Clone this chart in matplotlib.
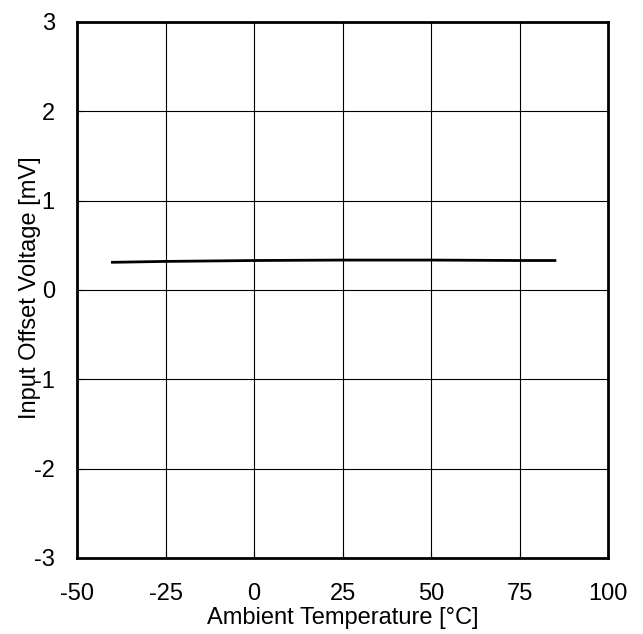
import matplotlib
matplotlib.use("Agg")
import matplotlib.pyplot as plt

plt.rcParams["font.family"] = ["Liberation Sans", "DejaVu Sans"]
plt.rcParams["axes.unicode_minus"] = False

# Input offset voltage vs ambient temperature
temps = [-40, -25, 0, 25, 50, 75, 85]
offset_mv = [0.31, 0.32, 0.33, 0.335, 0.335, 0.33, 0.33]

x_ticks = [-50, -25, 0, 25, 50, 75, 100]
y_ticks = [-3, -2, -1, 0, 1, 2, 3]

fig = plt.figure(figsize=(6.43, 6.34), dpi=100)
ax = fig.add_axes([0.1198, 0.1199, 0.8258, 0.8454])

ax.plot(temps, offset_mv, color="black", linewidth=2)

ax.set_xlim(-50, 100)
ax.set_ylim(-3, 3)
ax.set_xticks(x_ticks)
ax.set_yticks(y_ticks)
ax.grid(True, color="black", linewidth=0.8)
ax.tick_params(direction="in", length=4, labelsize=17)
ax.tick_params(axis="x", pad=18)
ax.tick_params(axis="y", pad=16)

for sp in ax.spines.values():
    sp.set_linewidth(2)

ax.set_xlabel("Ambient Temperature [°C]", fontsize=17)
ax.set_ylabel("Input Offset Voltage [mV]", fontsize=17)
# the y label sits close to the axis and overlaps the tick labels, like the original
ax.xaxis.set_label_coords(0.5, -0.092)
ax.yaxis.set_label_coords(-0.068, 0.505)

fig.savefig("out.png", dpi=100)
